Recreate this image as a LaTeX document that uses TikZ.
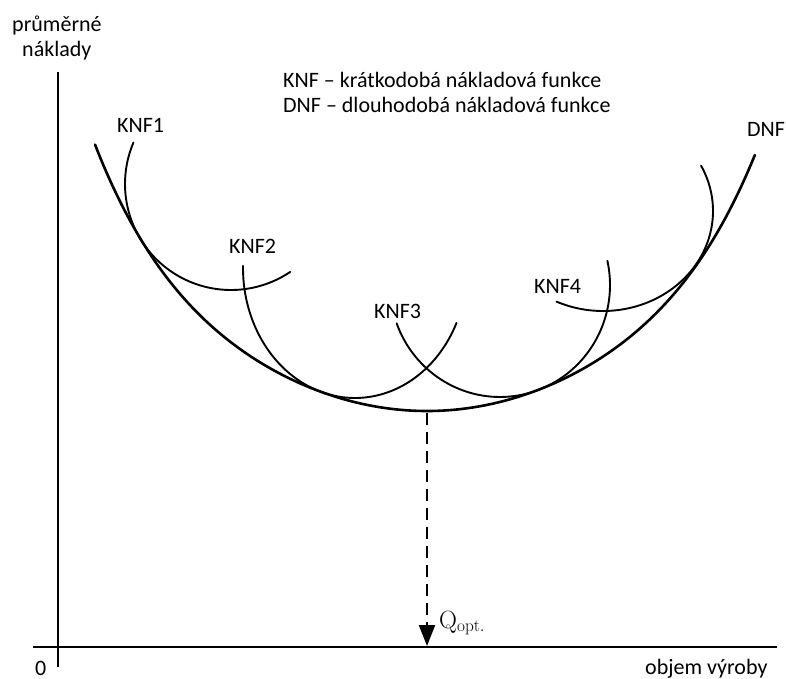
\documentclass[tikz,border=0pt]{standalone}
\usepackage[no-math]{fontspec}
\setmainfont{Carlito}
\usetikzlibrary{arrows.meta}
\begin{document}
\begin{tikzpicture}[x=1pt,y=-1pt,
  lbl/.style={font=\fontsize{22}{26}\selectfont, inner sep=0pt, anchor=base west},
  axis/.style={line width=2.6pt},
  dnf/.style={line width=2.6pt, line join=round, line cap=round},
  knf/.style={line width=1.9pt, line cap=round},
  guide/.style={line width=2.2pt, dash pattern=on 12pt off 7pt, -{Triangle[length=21pt,width=16pt]}}]
\useasboundingbox (0,0) rectangle (786,679);

% axes
\coordinate (ytop) at (58,72);
\coordinate (ybot) at (58,667);
\coordinate (xl) at (33,647);
\coordinate (xr) at (777,647);
\draw[axis] (ytop) -- (ybot);
\draw[axis] (xl) -- (xr);

% labels
\node[lbl] (ylab1) at (12,32) {průměrné};
\node[lbl] (ylab2) at (22,57) {náklady};
\node[lbl] (zero) at (35,675) {0};
\node[lbl] (xlab) at (645,674) {objem výroby};
\node[lbl] (leg1) at (283,88) {KNF – krátkodobá nákladová funkce};
\node[lbl] (leg2) at (283,113) {DNF – dlouhodobá nákladová funkce};
\node[lbl] (k1) at (117,133) {KNF1};
\node[lbl] (k2) at (229,253) {KNF2};
\node[lbl] (k3) at (374,318) {KNF3};
\node[lbl] (k4) at (534,293) {KNF4};
\node[lbl] (d) at (747,137) {DNF};
\node[lbl, font=\fontsize{23}{27}\selectfont] (q) at (439,628) {$\mathrm{Q}_{\mathrm{opt.}}$};

% long-run curve (DNF)
\draw[dnf] plot[domain=-3.32:3.28, samples=140, smooth]
  ({427+100*\x},{411-17*\x*\x-0.059*\x*\x*\x*\x*\x*\x});

% short-run curves (KNF1..KNF4)
\draw[knf] plot[domain=157:304, samples=80, smooth] ({231+106*cos(\x)},{184-106*sin(\x)});
\draw[knf] plot[domain=179:335, samples=80, smooth] ({355+112*cos(\x)},{268-130*sin(\x)});
\draw[knf] plot[domain=200:372.5, samples=80, smooth] ({500+110*cos(\x)},{285-112*sin(\x)});
\draw[knf] plot[domain=245:387, samples=80, smooth] ({603+110*cos(\x)},{211-100*sin(\x)});

% optimum
\coordinate (dmin) at (427,413);
\coordinate (qopt) at (427,646);
\draw[guide] (dmin) -- (qopt);
\end{tikzpicture}
\end{document}
